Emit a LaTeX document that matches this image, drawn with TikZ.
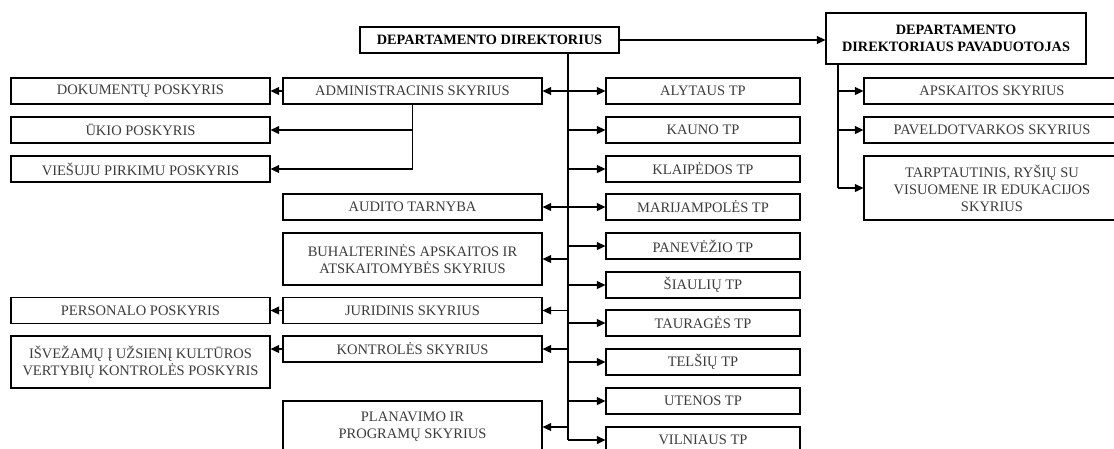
\documentclass[tikz,border=0pt]{standalone}
\usepackage{fontspec}
\setmainfont{Liberation Serif}
\usetikzlibrary{arrows.meta}
\definecolor{txt}{HTML}{3C3C3C}
\tikzset{
  box/.style={draw=black, line width=1.3pt, inner sep=0pt, align=center, text=txt, font=\fontsize{14.5}{17}\selectfont},
  bbox/.style={box, text=black, font=\fontsize{14.3}{17}\selectfont\bfseries},
  lbox/.style={box, minimum width=259, minimum height=26},
  mbox/.style={box, minimum width=259, minimum height=26},
  tpbox/.style={box, minimum width=194, minimum height=26},
  rbox/.style={box, minimum width=256, minimum height=26},
  conn/.style={line width=1.3pt, draw=black},
  arr/.style={conn, -{Triangle[length=8.5pt,width=8pt]}}
}
\begin{document}
\begin{tikzpicture}[x=1pt,y=-1pt]
\useasboundingbox (0,0) rectangle (1114,448);
\fill[white] (0,0) rectangle (1114,448);
\clip (0,0) rectangle (1114,448);

% top
\node[bbox, minimum width=259, minimum height=26] (dir) at (489.5,40) {DEPARTAMENTO DIREKTORIUS};
\node[bbox, minimum width=260, minimum height=51] (dep) at (956,38.5) {DEPARTAMENTO\\DIREKTORIAUS PAVADUOTOJAS};

% deputy column
\node[rbox] (aps) at (992,91) {APSKAITOS SKYRIUS};
\node[rbox] (pav) at (992,130) {PAVELDOTVARKOS SKYRIUS};
\node[rbox, minimum height=64] (tarp) at (992,188) {TARPTAUTINIS, RYŠIŲ SU\\VISUOMENE IR EDUKACIJOS\\SKYRIUS};

% TP column
\node[tpbox] (aly) at (703,91) {ALYTAUS TP};
\node[tpbox] (kau) at (703,130) {KAUNO TP};
\node[tpbox] (kla) at (703,169) {KLAIPĖDOS TP};
\node[tpbox] (mar) at (703,207) {MARIJAMPOLĖS TP};
\node[tpbox] (pan) at (703,246) {PANEVĖŽIO TP};
\node[tpbox] (sia) at (703,285) {ŠIAULIŲ TP};
\node[tpbox] (tau) at (703,323) {TAURAGĖS TP};
\node[tpbox] (tel) at (703,362) {TELŠIŲ TP};
\node[tpbox] (ute) at (703,401) {UTENOS TP};
\node[tpbox] (vil) at (703,440) {VILNIAUS TP};

% middle column
\node[mbox] (adm) at (412.5,91) {ADMINISTRACINIS SKYRIUS};
\node[mbox] (aud) at (412.5,207) {AUDITO TARNYBA};
\node[mbox, minimum height=52] (buh) at (412.5,259) {BUHALTERINĖS APSKAITOS IR\\ATSKAITOMYBĖS SKYRIUS};
\node[mbox] (jur) at (412.5,310.5) {JURIDINIS SKYRIUS};
\node[mbox] (kon) at (412.5,349) {KONTROLĖS SKYRIUS};
\node[mbox, minimum height=54, text depth=6pt] (pla) at (412.5,428) {PLANAVIMO IR\\PROGRAMŲ SKYRIUS};

% left column
\node[lbox] (dok) at (140.5,91) {DOKUMENTŲ POSKYRIS};
\node[lbox] (uki) at (140.5,130) {ŪKIO POSKYRIS};
\node[lbox] (vie) at (140.5,169) {VIEŠUJU PIRKIMU POSKYRIS};
\node[lbox] (per) at (140.5,310.5) {PERSONALO POSKYRIS};
\node[lbox, minimum height=52] (isv) at (140.5,362) {IŠVEŽAMŲ Į UŽSIENĮ KULTŪROS\\VERTYBIŲ KONTROLĖS POSKYRIS};

% connectors
\coordinate (tr) at (568,0);
\coordinate (dv) at (838,0);
\coordinate (plaArr) at (568,427);

\draw[arr] (dir.east) -- (dir.east -| dep.west);
\draw[conn] (dir.south -| tr) -- (vil.west -| tr);

\foreach \n in {aly,kau,kla,mar,pan,sia,tau,tel,ute,vil}
  \draw[arr] (\n.west -| tr) -- (\n.west);
\foreach \n in {adm,aud,buh,jur,kon}
  \draw[arr] (\n.east -| tr) -- (\n.east);
\draw[arr] (plaArr) -- (plaArr -| pla.east);

\draw[conn] (dep.south -| dv) -- (tarp.west -| dv);
\foreach \n in {aps,pav,tarp}
  \draw[arr] (\n.west -| dv) -- (\n.west);

\draw[arr] (adm.west) -- (dok.east);
\draw[arr] (jur.west) -- (per.east);
\draw[arr] (kon.west) -- (kon.west -| isv.east);
\draw[arr] (adm.south) |- (vie.east);
\draw[arr] (adm.south |- uki.east) -- (uki.east);
\end{tikzpicture}
\end{document}
